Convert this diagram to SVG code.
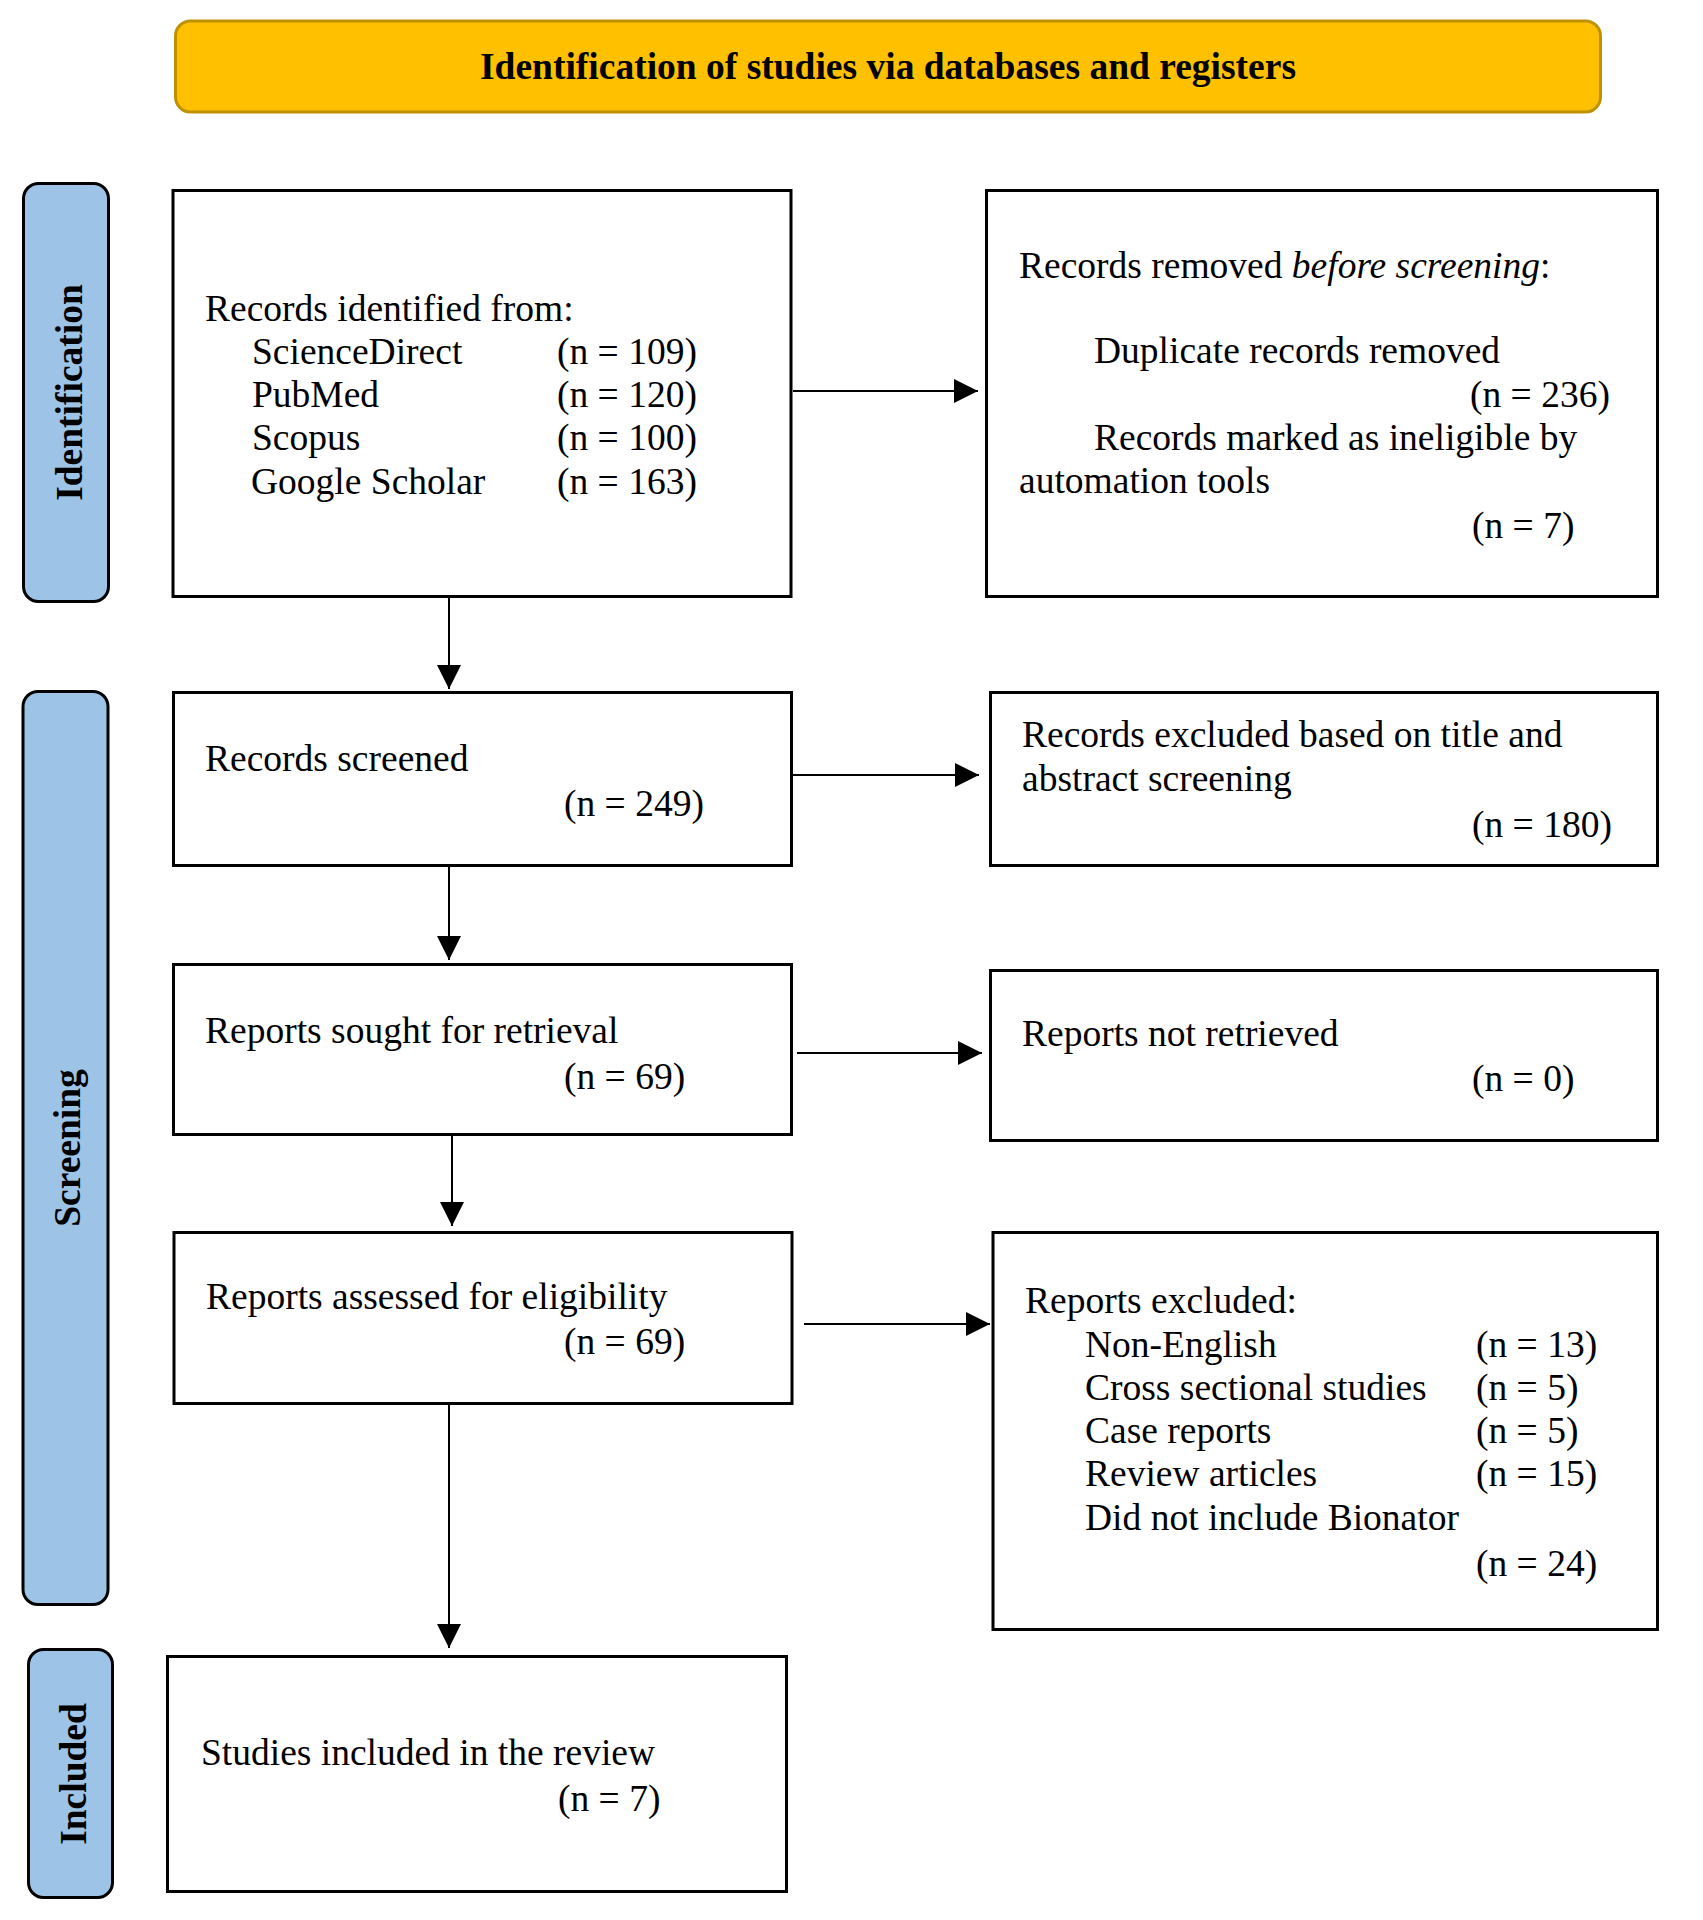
<svg xmlns="http://www.w3.org/2000/svg" width="1703" height="1920" viewBox="0 0 1703 1920">
<style>
  text { font-family: "Liberation Serif", "Times New Roman", serif; font-size: 37.5px; fill: #000; }
  .bold { font-weight: bold; }
  .box { fill: #fff; stroke: #000; stroke-width: 3; }
  .side { fill: #9DC3E6; stroke: #000; stroke-width: 3; }
  .head { fill: #FFC000; stroke: #BF9000; stroke-width: 3; }
  .conn { stroke: #000; stroke-width: 2; fill: none; marker-end: url(#arrow); }
</style>
<defs>
  <marker id="arrow" markerUnits="userSpaceOnUse" markerWidth="24" markerHeight="24" refX="24" refY="12" orient="auto">
    <path d="M0,0 L24,12 L0,24 Z" fill="#000"/>
  </marker>
</defs>
<rect width="1703" height="1920" fill="#fff"/>

<g id="header">
  <rect class="head" x="175.5" y="21" width="1425" height="91" rx="15" ry="15"/>
  <text class="bold" x="888" y="79" text-anchor="middle">Identification of studies via databases and registers</text>
</g>

<g id="side-identification">
  <rect class="side" x="23.5" y="183.5" width="85" height="418" rx="15" ry="15"/>
  <text class="bold" transform="translate(82,392.5) rotate(-90)" text-anchor="middle">Identification</text>
</g>
<g id="side-screening">
  <rect class="side" x="23" y="691.5" width="85" height="913" rx="15" ry="15"/>
  <text class="bold" transform="translate(80,1148) rotate(-90)" text-anchor="middle">Screening</text>
</g>
<g id="side-included">
  <rect class="side" x="28.5" y="1649.5" width="84" height="248" rx="15" ry="15"/>
  <text class="bold" transform="translate(86,1774) rotate(-90)" text-anchor="middle">Included</text>
</g>

<g id="records-identified">
  <rect class="box" x="173" y="190.5" width="618" height="406"/>
  <text x="205" y="321">Records identified from:</text>
  <text x="252" y="364">ScienceDirect</text><text x="557" y="364">(n = 109)</text>
  <text x="252" y="407">PubMed</text><text x="557" y="407">(n = 120)</text>
  <text x="252" y="450">Scopus</text><text x="557" y="450">(n = 100)</text>
  <text x="251" y="494">Google Scholar</text><text x="557" y="494">(n = 163)</text>
</g>

<g id="records-removed">
  <rect class="box" x="986.5" y="190.5" width="671" height="406"/>
  <text x="1019" y="278">Records removed <tspan font-style="italic">before screening</tspan>:</text>
  <text x="1094" y="363">Duplicate records removed</text>
  <text x="1470" y="407">(n = 236)</text>
  <text x="1094" y="450">Records marked as ineligible by</text>
  <text x="1019" y="493">automation tools</text>
  <text x="1472" y="538">(n = 7)</text>
</g>

<g id="records-screened">
  <rect class="box" x="173.5" y="692.5" width="618" height="173"/>
  <text x="205" y="771">Records screened</text>
  <text x="564" y="816">(n = 249)</text>
</g>

<g id="records-excluded">
  <rect class="box" x="990.5" y="692.5" width="667" height="173"/>
  <text x="1022" y="747">Records excluded based on title and</text>
  <text x="1022" y="791">abstract screening</text>
  <text x="1472" y="837">(n = 180)</text>
</g>

<g id="reports-sought">
  <rect class="box" x="173.5" y="964.5" width="618" height="170"/>
  <text x="205" y="1043">Reports sought for retrieval</text>
  <text x="564" y="1089">(n = 69)</text>
</g>

<g id="reports-not-retrieved">
  <rect class="box" x="990.5" y="970.5" width="667" height="170"/>
  <text x="1022" y="1046">Reports not retrieved</text>
  <text x="1472" y="1091">(n = 0)</text>
</g>

<g id="reports-assessed">
  <rect class="box" x="174" y="1232.5" width="618" height="171"/>
  <text x="206" y="1309">Reports assessed for eligibility</text>
  <text x="564" y="1354">(n = 69)</text>
</g>

<g id="reports-excluded">
  <rect class="box" x="993" y="1232.5" width="664.5" height="397"/>
  <text x="1025" y="1313">Reports excluded:</text>
  <text x="1085" y="1357">Non-English</text><text x="1476" y="1357">(n = 13)</text>
  <text x="1085" y="1400">Cross sectional studies</text><text x="1476" y="1400">(n = 5)</text>
  <text x="1085" y="1443">Case reports</text><text x="1476" y="1443">(n = 5)</text>
  <text x="1085" y="1486">Review articles</text><text x="1476" y="1486">(n = 15)</text>
  <text x="1085" y="1530">Did not include Bionator</text>
  <text x="1476" y="1576">(n = 24)</text>
</g>

<g id="studies-included">
  <rect class="box" x="167.5" y="1656.5" width="619" height="235"/>
  <text x="201" y="1765">Studies included in the review</text>
  <text x="558" y="1811">(n = 7)</text>
</g>

<g id="connectors">
  <line class="conn" x1="793" y1="391" x2="978" y2="391"/>
  <line class="conn" x1="449" y1="598" x2="449" y2="689"/>
  <line class="conn" x1="793" y1="775" x2="979" y2="775"/>
  <line class="conn" x1="449" y1="867" x2="449" y2="960"/>
  <line class="conn" x1="797" y1="1053" x2="982" y2="1053"/>
  <line class="conn" x1="452" y1="1136" x2="452" y2="1226"/>
  <line class="conn" x1="804" y1="1324" x2="990" y2="1324"/>
  <line class="conn" x1="449" y1="1405" x2="449" y2="1648"/>
</g>
</svg>
